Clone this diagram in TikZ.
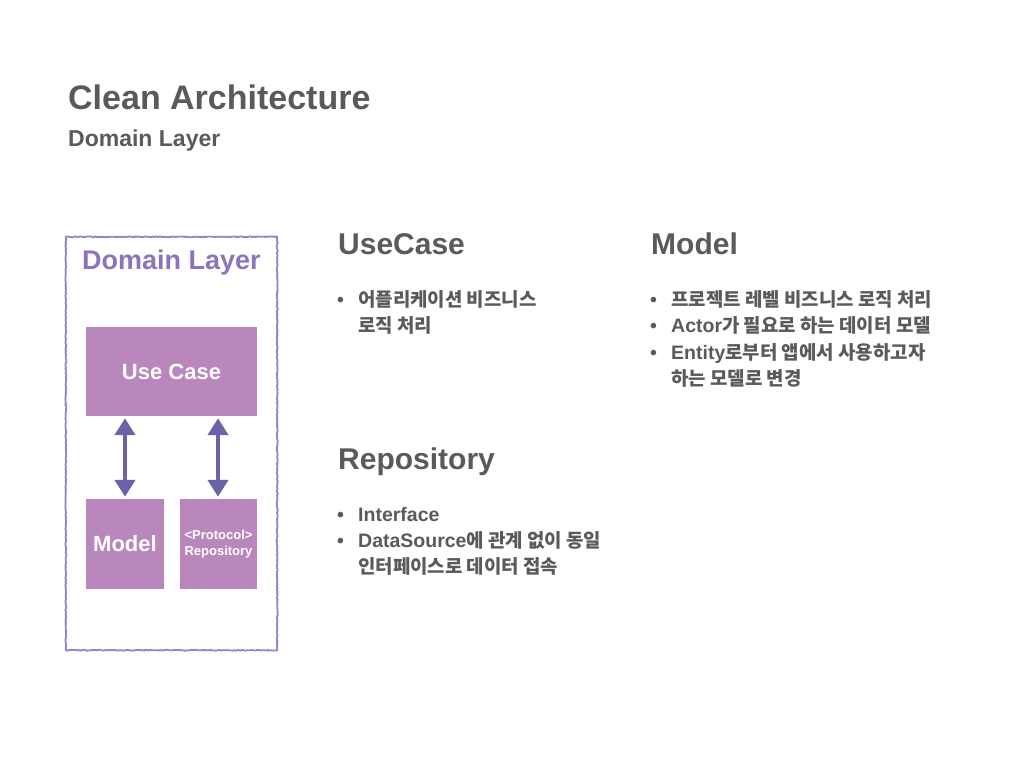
\documentclass[tikz,border=0pt]{standalone}
\usepackage{fontspec}
\setmainfont{Liberation Sans}
\newfontfamily\kr{Noto Sans CJK KR}[Scale=0.97]
\usetikzlibrary{arrows.meta,decorations.pathmorphing}
\definecolor{txtc}{HTML}{5A5A5A}
\definecolor{boxc}{HTML}{B987BC}
\definecolor{arrc}{HTML}{6A63A8}
\definecolor{framec}{HTML}{9584C6}
\definecolor{dlc}{HTML}{8C74BC}
\tikzset{
  lbl/.style={anchor=base west, inner sep=0pt, text=txtc},
  title/.style={lbl, font=\bfseries\fontsize{34}{40}\selectfont},
  subtitle/.style={lbl, font=\bfseries\fontsize{23}{27}\selectfont},
  heading/.style={lbl, font=\bfseries\fontsize{30}{34}\selectfont},
  item/.style={lbl, font=\bfseries\fontsize{19.5}{24}\selectfont},
  frame box/.style={draw=none, inner sep=0pt},
  rough/.style={draw=framec, line width=1.8pt, decorate, decoration={random steps, segment length=1.5pt, amplitude=0.45pt}},
  pbox/.style={fill=boxc, draw=none, text=white, inner sep=0pt, align=center},
  dbl/.style={draw=arrc, line width=4.5pt, {Triangle[width=20pt,length=17pt]}-{Triangle[width=20pt,length=17pt]}, shorten <=2pt, shorten >=2pt}
}
\begin{document}
\begin{tikzpicture}[x=1pt,y=-1pt]
\useasboundingbox (0,0) rectangle (1024,768);
% titles
\node[title] (t1) at (68,109) {Clean Architecture};
\node[subtitle] (t2) at (68,146) {Domain Layer};
% diagram
\node[frame box, minimum width=211pt, minimum height=413pt] (frame) at (171.5,443.5) {};
\draw[rough] (frame.north west) rectangle (frame.south east);
\node[anchor=base, inner sep=0pt, text=dlc, font=\bfseries\fontsize{27}{32}\selectfont] (dlabel) at (171.5,269) {Domain Layer};
\node[pbox, minimum width=171pt, minimum height=89pt, font=\bfseries\fontsize{22}{26}\selectfont] (uc) at (171.5,371.5) {Use Case};
\node[pbox, minimum width=78pt, minimum height=90pt, font=\bfseries\fontsize{22}{26}\selectfont] (model) at (125,544) {Model};
\node[pbox, minimum width=77pt, minimum height=90pt, font=\bfseries\fontsize{13}{16}\selectfont] (repo) at (218.5,544) {<Protocol>\\Repository};
\draw[dbl] (model.north) -- (model.north |- uc.south);
\draw[dbl] ([xshift=-0.5pt]repo.north) -- ([xshift=-0.5pt]repo.north |- uc.south);
% UseCase column
\node[heading] (h1) at (338,254) {UseCase};
\node[item] (b11) at (337,306) {•};
\node[item] (u1) at (358,306) {\kr 어플리케이션 비즈니스};
\node[item] (u2) at (358,332) {\kr 로직 처리};
% Repository column
\node[heading] (h2) at (338,469) {Repository};
\node[item] (b21) at (337,521) {•};
\node[item] (r1) at (358,521) {Interface};
\node[item] (b22) at (337,547) {•};
\node[item] (r2) at (358,547) {DataSource{\kr 에 관계 없이 동일}};
\node[item] (r3) at (358,573) {\kr 인터페이스로 데이터 접속};
% Model column
\node[heading] (h3) at (651,254) {Model};
\node[item] (b31) at (650,306) {•};
\node[item] (m1) at (671,306) {\kr 프로젝트 레벨 비즈니스 로직 처리};
\node[item] (b32) at (650,332) {•};
\node[item] (m2) at (671,332) {Actor{\kr 가 필요로 하는 데이터 모델}};
\node[item] (b33) at (650,359) {•};
\node[item] (m3) at (671,359) {Entity{\kr 로부터 앱에서 사용하고자}};
\node[item] (m4) at (671,385) {\kr 하는 모델로 변경};
\end{tikzpicture}
\end{document}
